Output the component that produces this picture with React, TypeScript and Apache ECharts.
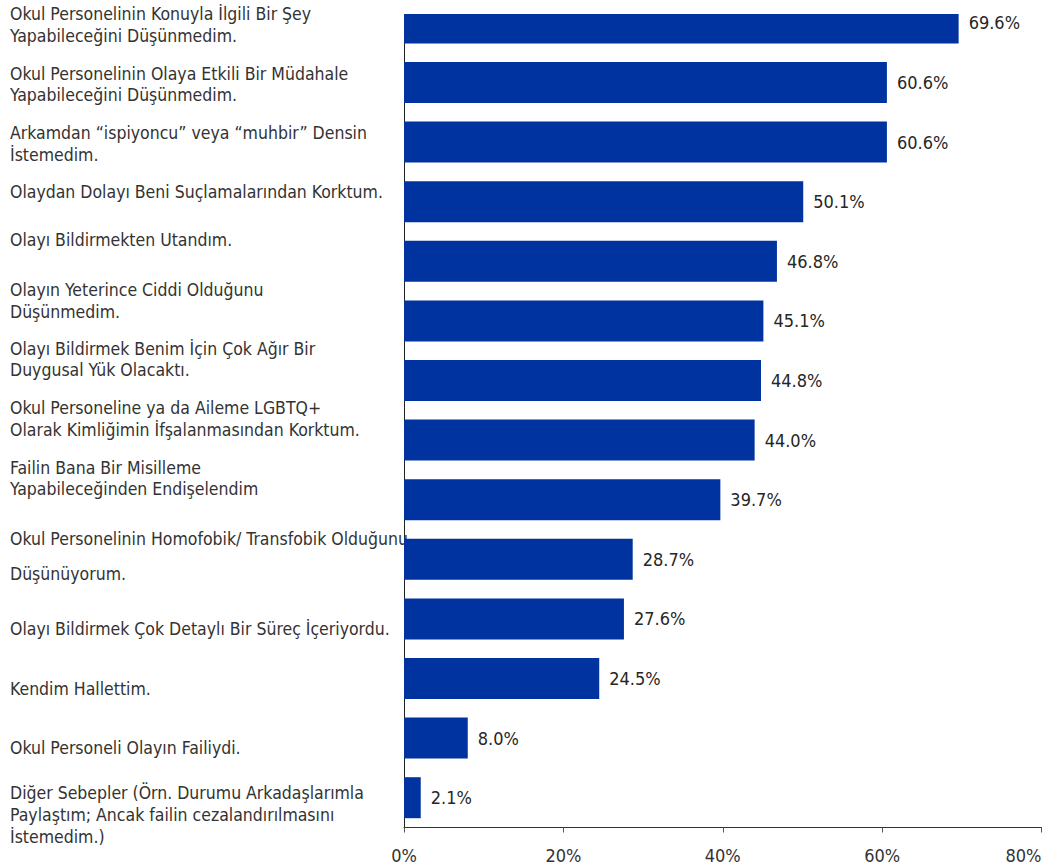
import React, { useEffect, useRef } from "react";
import * as echarts from "echarts";

const categories = [
  "Okul Personelinin Konuyla İlgili Bir Şey\nYapabileceğini Düşünmedim.",
  "Okul Personelinin Olaya Etkili Bir Müdahale\nYapabileceğini Düşünmedim.",
  "Arkamdan “ispiyoncu” veya “muhbir” Densin\nİstemedim.",
  "Olaydan Dolayı Beni Suçlamalarından Korktum.",
  "Olayı Bildirmekten Utandım.",
  "Olayın Yeterince Ciddi Olduğunu\nDüşünmedim.",
  "Olayı Bildirmek Benim İçin Çok Ağır Bir\nDuygusal Yük Olacaktı.",
  "Okul Personeline ya da Aileme LGBTQ+\nOlarak Kimliğimin İfşalanmasından Korktum.",
  "Failin Bana Bir Misilleme\nYapabileceğinden Endişelendim",
  "Okul Personelinin Homofobik/ Transfobik Olduğunu\nDüşünüyorum.",
  "Olayı Bildirmek Çok Detaylı Bir Süreç İçeriyordu.",
  "Kendim Hallettim.",
  "Okul Personeli Olayın Failiydi.",
  "Diğer Sebepler (Örn. Durumu Arkadaşlarımla\nPaylaştım; Ancak failin cezalandırılmasını\nİstemedim.)",
];

const values = [69.6, 60.6, 60.6, 50.1, 46.8, 45.1, 44.8, 44.0, 39.7, 28.7, 27.6, 24.5, 8.0, 2.1];

const axisMin = 0;
const axisMax = 80;
const axisStep = 20;

// layout-only tweaks for the category labels (vertical shift of the text block in px, line height)
const labelShift = [2, 2, 2, -9.5, -21, -20, -21, -21, -21, -3, 10.5, 10, 10, 17];
const labelLineHeight = [21.5, 21.5, 21.5, 21.5, 21.5, 21.5, 21.5, 21.5, 21.5, 35, 21.5, 21.5, 21.5, 22];

const FONT = "'DejaVu Sans Condensed', 'DejaVu Sans', sans-serif";

export default function App() {
  const ref = useRef<HTMLDivElement>(null);
  useEffect(() => {
    const chart = echarts.init(ref.current!, null, { renderer: "svg" });
    chart.setOption({
      animation: false,
      backgroundColor: "#ffffff",
      grid: {
        left: 404,
        right: 10.5,
        top: -6.9,
        bottom: 39.5,
        containLabel: false,
        outerBoundsMode: "none",
      },
      xAxis: {
        type: "value",
        min: axisMin,
        max: axisMax,
        interval: axisStep,
        axisLine: { show: true, lineStyle: { color: "#333333", width: 1 } },
        axisTick: { show: true, length: 5, lineStyle: { color: "#555555" } },
        splitLine: { show: false },
        axisLabel: {
          formatter: "{value}%",
          fontFamily: FONT,
          fontSize: 18,
          color: "#333333",
          margin: 19,
          alignMaxLabel: "right",
        },
      },
      yAxis: {
        type: "category",
        inverse: true,
        data: categories.map((c, i) => {
          const lh = labelLineHeight[i];
          const n = c.split("\n").length;
          const padTop = labelShift[i] - (n * lh) / 2;
          return {
            value: c,
            textStyle: {
              align: "left",
              verticalAlign: "top",
              lineHeight: lh,
              padding: [padTop, 0, 0, 0],
            },
          };
        }),
        axisLine: { show: true, lineStyle: { color: "#222222", width: 1 } },
        axisTick: { show: false },
        splitLine: { show: false },
        axisLabel: {
          interval: 0,
          align: "left",
          margin: 394,
          fontFamily: FONT,
          fontSize: 17.5,
          lineHeight: 21.5,
          color: "#333333",
        },
      },
      series: [
        {
          type: "bar",
          data: values,
          barWidth: 41,
          itemStyle: { color: "#0033A0" },
          label: {
            show: true,
            position: "right",
            distance: 10,
            fontFamily: FONT,
            fontSize: 18,
            color: "#262626",
            formatter: (p: any) => Number(p.value).toFixed(1) + "%",
          },
        },
      ],
      graphic: [
        {
          type: "rect",
          z: 100,
          shape: { x: 398, y: -20, width: 660, height: 34 },
          style: { fill: "#ffffff" },
          silent: true,
        },
      ],
    });
    return () => chart.dispose();
  }, []);
  return (
    <div
      ref={ref}
      style={{ position: "absolute", left: 0, top: 0, width: 1052, height: 867 }}
    />
  );
}
